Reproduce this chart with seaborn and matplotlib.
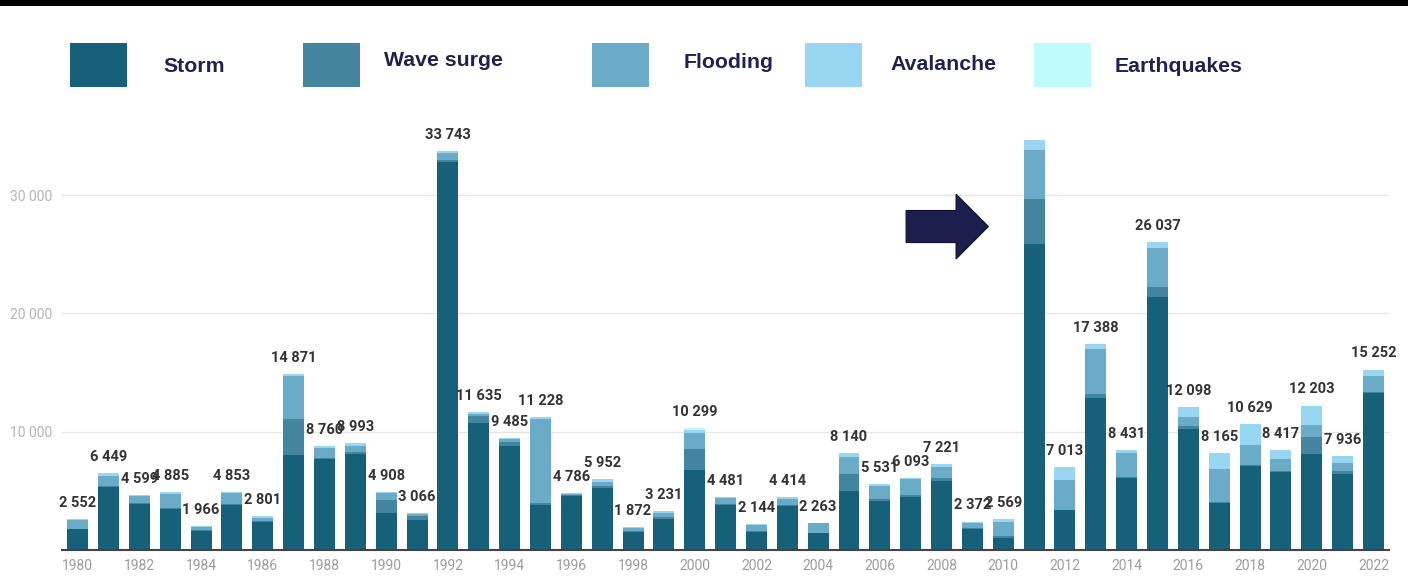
import numpy as np
import pandas as pd
import matplotlib
matplotlib.use("Agg")
import matplotlib.pyplot as plt
from matplotlib.patches import Rectangle, FancyArrow
from matplotlib.ticker import FixedLocator, FuncFormatter
import seaborn as sns

# Insured losses by peril and year
years = list(range(1980, 2023))
storm = [1700, 5290, 3860, 3430, 1570, 3800, 2340, 8050, 7630, 8090,
         3060, 2510, 32880, 10750, 8760, 3730, 4540, 5170, 1520, 2590,
         6750, 3760, 1490, 3650, 1380, 4940, 4110, 4450, 5800, 1720,
         1000, 25870, 3330, 12800, 6090, 21430, 10230, 3930, 7090, 6570,
         8060, 6430, 13290]
wave_surge = [40, 130, 60, 100, 60, 60, 60, 2970, 140, 200,
              1140, 290, 140, 600, 340, 200, 100, 230, 80, 200,
              1780, 60, 40, 80, 50, 1440, 200, 200, 290, 90,
              140, 3830, 50, 340, 60, 810, 200, 90, 60, 90,
              1510, 200, 20]
flooding = [770, 830, 620, 1200, 300, 900, 260, 3650, 800, 500,
            560, 200, 560, 120, 230, 7150, 100, 350, 200, 290,
            1380, 520, 560, 550, 780, 1500, 1050, 1290, 930, 430,
            1150, 4160, 2490, 3880, 1990, 3350, 780, 2770, 1710, 1040,
            1000, 710, 1370]
avalanche = [42, 199, 59, 155, 36, 93, 141, 201, 190, 203,
             148, 66, 163, 165, 155, 148, 46, 202, 72, 151,
             240, 141, 54, 134, 53, 260, 171, 153, 201, 132,
             279, 840, 1143, 368, 291, 447, 888, 1375, 1769, 717,
             1633, 596, 572]
earthquakes = [0] * 20 + [149] + [0] * 22
unlabelled_years = [2011]

perils = ["Storm", "Wave surge", "Flooding", "Avalanche", "Earthquakes"]
peril_colors = ["#176079", "#43849f", "#6aabc8", "#98d6f1", "#c0fbfc"]

W, H = 1408, 577
NAVY = "#1e2152"

sns.set_theme(style="white")
plt.rcParams["font.family"] = ["Roboto", "DejaVu Sans"]

df = pd.DataFrame({"year": [str(y) for y in years],
                   "Storm": storm, "Wave surge": wave_surge,
                   "Flooding": flooding, "Avalanche": avalanche,
                   "Earthquakes": earthquakes})
order = df["year"].tolist()
stacked = df[perils].cumsum(axis=1)

fig = plt.figure(figsize=(W / 100, H / 100), dpi=100)
fig.patch.set_facecolor("white")
ax = fig.add_axes([62.3 / W, (H - 549.5) / H, 1326.6 / W, 424.8 / H])

# draw cumulative layers from the top of the stack down
for peril, color in reversed(list(zip(perils, peril_colors))):
    sns.barplot(x=df["year"], y=stacked[peril], order=order, color=color,
                saturation=1, width=0.68, errorbar=None, linewidth=0, ax=ax)

totals = stacked["Earthquakes"].to_numpy()


def thousands(v, _pos=None):
    return f"{int(round(v)):,}".replace(",", " ")


for i, (yr, tot) in enumerate(zip(years, totals)):
    if yr in unlabelled_years:
        continue
    ax.annotate(thousands(tot), (i, tot), xytext=(0, 6.5),
                textcoords="offset points", ha="center", va="bottom",
                fontsize=10.5, fontweight="bold", color="#333333")

ax.set_xlim(-0.5, len(years) - 0.5)
ax.set_ylim(0, 36000)
ax.set_xlabel("")
ax.set_ylabel("")

ax.yaxis.set_major_locator(FixedLocator([10000, 20000, 30000]))
ax.yaxis.set_major_formatter(FuncFormatter(thousands))
ax.set_xticks(range(0, len(years), 2))
ax.set_xticklabels([str(y) for y in years[::2]])
ax.tick_params(axis="y", length=0, pad=7, labelsize=10, labelcolor="#b4b4b4")
ax.tick_params(axis="x", length=0, pad=7, labelsize=10, labelcolor="#9c9c9c")

ax.grid(axis="y", color="#e6e6e6", linewidth=1)
ax.set_axisbelow(True)
for side in ("top", "right", "left"):
    ax.spines[side].set_visible(False)
ax.spines["bottom"].set_color("#444444")
ax.spines["bottom"].set_linewidth(1.5)

# arrow pointing at the 2011 bar
i2011 = years.index(2011)
arrow = FancyArrow(i2011 - 4.15, 27370, 2.67, 0, width=2720, head_width=5500,
                   head_length=1.05, length_includes_head=True,
                   facecolor="#1c1f4e", edgecolor="#121433", linewidth=0.8,
                   zorder=5)
ax.add_patch(arrow)

# black band across the top
fig.add_artist(Rectangle((0, 1 - 6 / H), 1, 6 / H, transform=fig.transFigure,
                         facecolor="black", edgecolor="none"))

# legend row
legend_boxes = [70, 303, 592, 805, 1034]
legend_text_x = [163, 384, 684, 890, 1115]
legend_text_y = [67, 61, 63, 65, 66]
for name, color, bx, tx, ty in zip(perils, peril_colors, legend_boxes,
                                   legend_text_x, legend_text_y):
    fig.add_artist(Rectangle((bx / W, 1 - 87 / H), 57 / W, 44 / H,
                             transform=fig.transFigure, facecolor=color,
                             edgecolor="none"))
    fig.text(tx / W, 1 - ty / H, name, ha="left", va="center",
             fontsize=15.3, fontweight="bold", color=NAVY,
             family=["Liberation Sans", "DejaVu Sans"])

fig.savefig("out.png", dpi=100)
